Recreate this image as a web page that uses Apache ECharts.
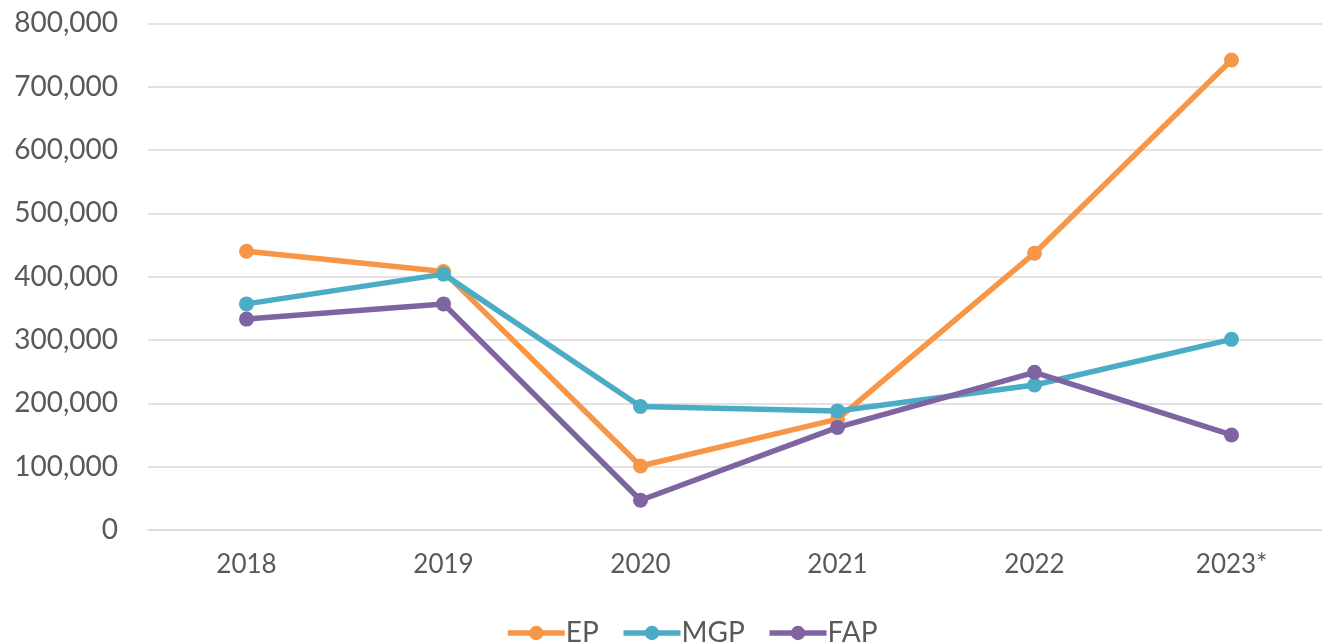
<!DOCTYPE html>
<html><head><meta charset="utf-8">
<script src="https://cdn.jsdelivr.net/npm/echarts@6/dist/echarts.min.js"></script>
<style>html,body{margin:0;padding:0;background:#fff}#c{width:1322px;height:644px}</style>
</head><body><div id="c"></div>
<script>
const categories = ['2018','2019','2020','2021','2022','2023*'];
const ep  = [440000, 408000, 101000, 175000, 437000, 742000];
const mgp = [357000, 404000, 195000, 188000, 229000, 301000];
const fap = [333000, 357000, 47000, 162000, 249000, 150000];
const yTicks = [0,100000,200000,300000,400000,500000,600000,700000,800000];

const font = 'Lato, "Open Sans", sans-serif';
const chart = echarts.init(document.getElementById('c'));
function s(name, data, color){
  return {name, type:'line', data, symbol:'circle', symbolSize:15,
    lineStyle:{width:5.5,color}, itemStyle:{color}, z: 3};
}
chart.setOption({
  animation:false,
  grid:{left:148, top:23.3, width:1182, height:506.7, containLabel:false, outerBoundsMode:'none'},
  legend:{bottom:-8, left:500, itemWidth:57, itemHeight:18, itemGap:22,
    lineStyle:{width:5.5},
    textStyle:{fontFamily:font, fontSize:28, color:'#595959', padding:[0,0,0,-4]},
    data:['EP','MGP','FAP']},
  xAxis:{type:'category', data:categories, boundaryGap:true,
    axisLine:{show:true, lineStyle:{color:'#d9d9d9', width:1.5}}, axisTick:{show:false},
    axisLabel:{fontFamily:font, fontSize:26, color:'#595959', margin:22}},
  yAxis:{type:'value', min:0, max:800000, interval:100000,
    axisLine:{show:false}, axisTick:{show:false},
    splitLine:{lineStyle:{color:'#d9d9d9', width:1.5}},
    axisLabel:{fontFamily:font, fontSize:28, color:'#595959', margin:30,
      formatter:v=>v.toLocaleString('en-US')}},
  series:[s('EP',ep,'#F79646'), s('MGP',mgp,'#4BACC6'), s('FAP',fap,'#8064A2')]
});
</script></body></html>
